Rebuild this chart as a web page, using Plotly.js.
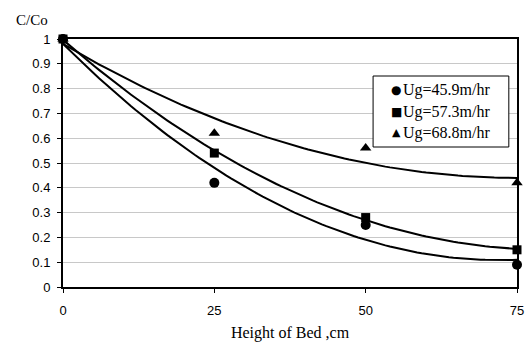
<!DOCTYPE html>
<html>
<head>
<meta charset="utf-8">
<script src="https://cdn.plot.ly/plotly-3.0.1.min.js"></script>
<style>html,body{margin:0;padding:0;background:#fff;}#chart{width:529px;height:342px;}</style>
</head>
<body>
<div id="chart"></div>
<script>
const heights = [0, 25, 50, 75];
const seriesNames = ["Ug=45.9m/hr", "Ug=57.3m/hr", "Ug=68.8m/hr"];
const ug459 = [1, 0.42, 0.25, 0.09];
const ug573 = [1, 0.54, 0.28, 0.15];
const ug688 = [1, 0.62, 0.56, 0.42];
const symbols = ["circle", "square", "triangle-up"];
const legendGlyphs = ["\u25CF", "\u25A0", "\u25B2"];
const xTicks = [0, 25, 50, 75];

// quadratic least-squares trendline (like Excel polynomial order 2)
function quadFit(xs, ys) {
  let S = [0,0,0,0,0], T = [0,0,0];
  for (let i = 0; i < xs.length; i++) {
    let p = 1;
    for (let k = 0; k < 5; k++) { S[k] += p; if (k < 3) T[k] += p * ys[i]; p *= xs[i]; }
  }
  const A = [[S[0],S[1],S[2],T[0]],[S[1],S[2],S[3],T[1]],[S[2],S[3],S[4],T[2]]];
  for (let i = 0; i < 3; i++) {
    for (let j = i+1; j < 3; j++) {
      const f = A[j][i] / A[i][i];
      for (let k = i; k < 4; k++) A[j][k] -= f * A[i][k];
    }
  }
  const c = [0,0,0];
  for (let i = 2; i >= 0; i--) {
    let s = A[i][3];
    for (let k = i+1; k < 3; k++) s -= A[i][k] * c[k];
    c[i] = s / A[i][i];
  }
  return c;
}

const allSeries = [ug459, ug573, ug688];
const traces = [];
allSeries.forEach((ys, idx) => {
  const c = quadFit(heights, ys);
  const fx = [], fy = [];
  for (let x = heights[0]; x <= heights[heights.length-1] + 1e-9; x += 0.75) {
    fx.push(x); fy.push(c[0] + c[1]*x + c[2]*x*x);
  }
  traces.push({x: fx, y: fy, mode: "lines", line: {color: "#000", width: 2}, showlegend: false, hoverinfo: "skip", cliponaxis: false});
});
allSeries.forEach((ys, idx) => {
  traces.push({x: heights, y: ys, name: seriesNames[idx], mode: "markers", showlegend: false,
    marker: {symbol: symbols[idx], color: "#000", size: idx === 1 ? 9 : 10}, cliponaxis: false});
});

const serif = "Liberation Serif, Times New Roman, serif";
const sans = "Liberation Sans, Arial, sans-serif";

// manual legend (box + glyph + label)
const legRowsY = [0.794, 0.706, 0.621];
const annotations = [{
  text: "C/Co", xref: "paper", yref: "paper", x: -0.069, y: 1.078,
  xanchor: "center", yanchor: "middle", showarrow: false,
  font: {family: serif, size: 15}
}];
seriesNames.forEach((nm, i) => {
  annotations.push({
    text: legendGlyphs[i], xref: "paper", yref: "paper", x: 0.7335, y: legRowsY[i],
    xanchor: "center", yanchor: "middle", showarrow: false,
    font: {family: "DejaVu Sans", size: i === 2 ? 11 : 12, color: "#000"}
  });
  annotations.push({
    text: nm, xref: "paper", yref: "paper", x: 0.745, y: legRowsY[i],
    xanchor: "left", yanchor: "middle", showarrow: false,
    font: {family: serif, size: 16, color: "#000"}
  });
});

const layout = {
  width: 529, height: 342,
  margin: {l: 63, r: 12, t: 39, b: 55},
  paper_bgcolor: "#fff", plot_bgcolor: "#fff",
  font: {family: sans, size: 13, color: "#000"},
  showlegend: false,
  xaxis: {
    range: [0, 75], tickvals: xTicks, ticktext: xTicks.map(String),
    showgrid: false, zeroline: false,
    showline: true, linecolor: "#000", linewidth: 2, mirror: true,
    ticks: "outside", ticklen: 4, tickcolor: "#000", tickwidth: 1,
    ticklabelstandoff: 6,
    tickfont: {family: sans, size: 13},
    title: {text: "Height of Bed ,cm", font: {family: serif, size: 16}, standoff: 10}
  },
  yaxis: {
    range: [0, 1], dtick: 0.1, tick0: 0,
    showgrid: true, gridcolor: "#c8c8c8", gridwidth: 1, zeroline: false,
    showline: true, linecolor: "#000", linewidth: 2, mirror: true,
    ticks: "outside", ticklen: 4, tickcolor: "#000", tickwidth: 1,
    ticklabelstandoff: 4,
    tickfont: {family: sans, size: 13}
  },
  shapes: [{
    type: "rect", xref: "paper", yref: "paper",
    x0: 0.683, x1: 0.982, y0: 0.5645, y1: 0.8508,
    line: {color: "#000", width: 1}, fillcolor: "#fff", layer: "above"
  }],
  annotations: annotations
};

Plotly.newPlot("chart", traces, layout, {displayModeBar: false, staticPlot: true});
</script>
</body>
</html>
